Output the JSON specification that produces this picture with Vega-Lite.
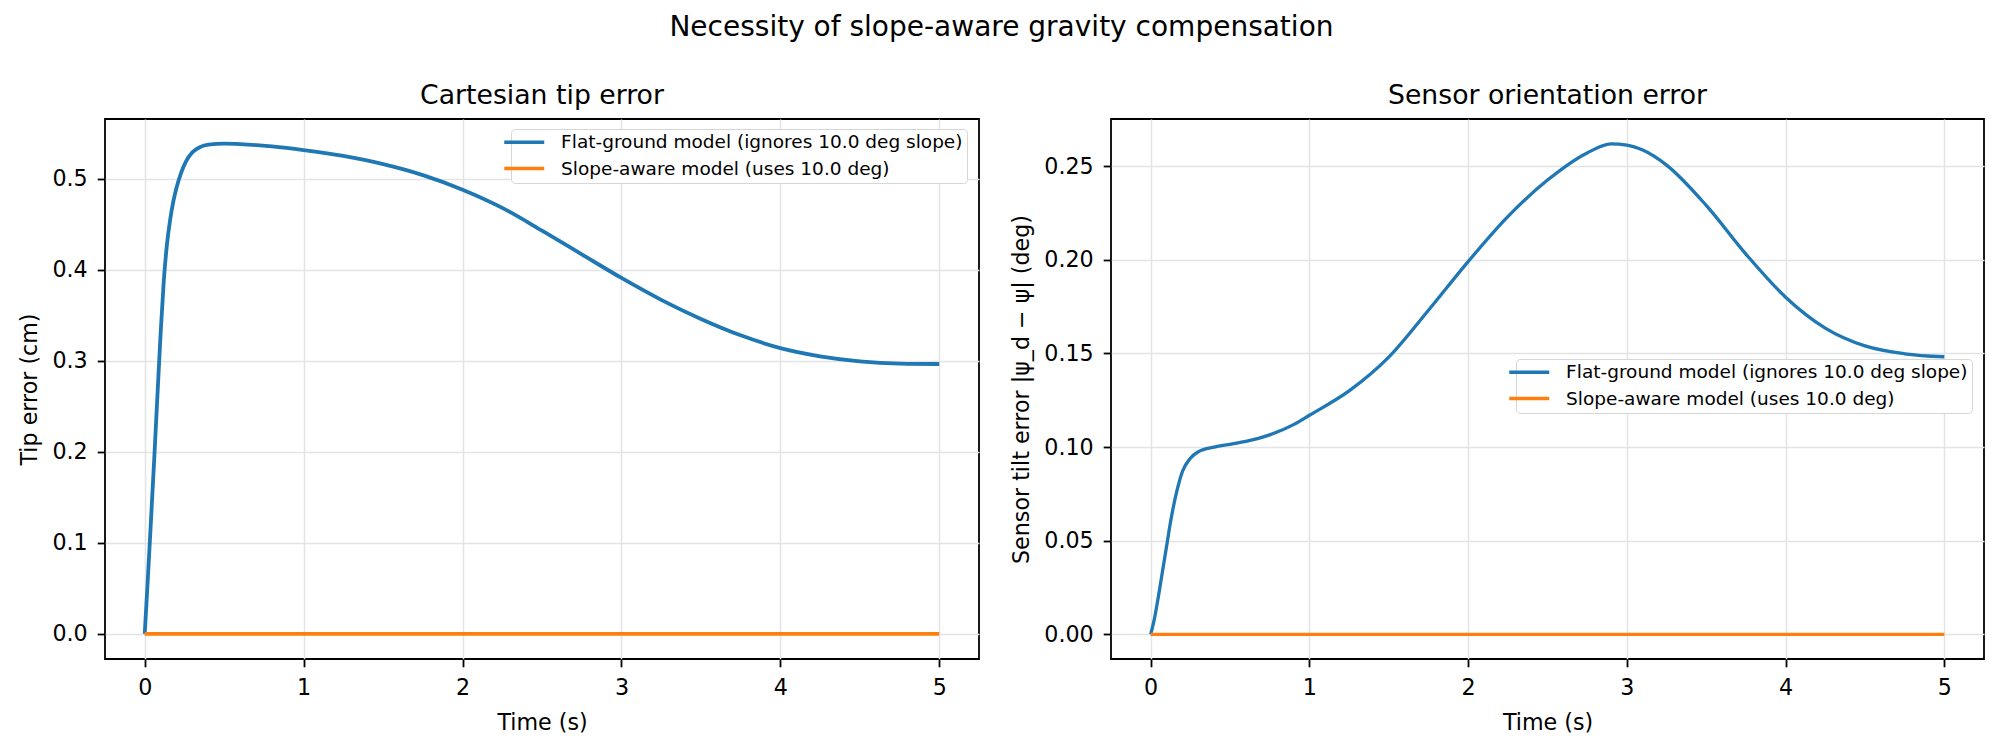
{
  "$schema": "https://vega.github.io/schema/vega-lite/v6.json",
  "padding": {"left": 18, "top": 14, "right": 0, "bottom": 0},
  "bounds": "flush",
  "spacing": 132,
  "title": {"text": "Necessity of slope-aware gravity compensation", "font": "DejaVu Sans", "fontSize": 28, "fontWeight": "normal", "color": "black", "anchor": "middle", "offset": 40},
  "config": {
    "font": "DejaVu Sans",
    "view": {"stroke": "black", "strokeWidth": 1.8},
    "axis": {"labelFont": "DejaVu Sans", "labelFontSize": 22.2, "labelColor": "black", "tickColor": "black", "tickSize": 7.8, "tickWidth": 1.8, "labelPadding": 10, "titleFont": "DejaVu Sans", "titleFontSize": 22.2, "titleFontWeight": "normal", "titleColor": "black", "domain": false, "gridColor": "#e4e4e4", "gridWidth": 1.5, "labelFlush": false, "labelOverlap": false},
    "title": {"font": "DejaVu Sans", "fontSize": 26.7, "fontWeight": "normal", "color": "black", "offset": 9},
    "legend": {"labelFont": "DejaVu Sans", "labelFontSize": 18.5, "labelColor": "black", "labelLimit": 0, "symbolType": "M-4,0H4", "symbolSize": 100, "symbolStrokeWidth": 3.5, "strokeColor": "#d6d6d6", "fillColor": "white", "cornerRadius": 4, "padding": 4, "rowPadding": 7.3, "labelOffset": 27.6, "title": null}
  },
  "datasets": {
    "tip": [
      {"t": 0, "v": 0, "model": "Flat-ground model (ignores 10.0 deg slope)"},
      {"t": 0.02, "v": 0.062, "model": "Flat-ground model (ignores 10.0 deg slope)"},
      {"t": 0.04, "v": 0.127, "model": "Flat-ground model (ignores 10.0 deg slope)"},
      {"t": 0.06, "v": 0.193, "model": "Flat-ground model (ignores 10.0 deg slope)"},
      {"t": 0.08, "v": 0.262, "model": "Flat-ground model (ignores 10.0 deg slope)"},
      {"t": 0.1, "v": 0.33, "model": "Flat-ground model (ignores 10.0 deg slope)"},
      {"t": 0.12, "v": 0.388, "model": "Flat-ground model (ignores 10.0 deg slope)"},
      {"t": 0.14, "v": 0.428, "model": "Flat-ground model (ignores 10.0 deg slope)"},
      {"t": 0.16, "v": 0.455, "model": "Flat-ground model (ignores 10.0 deg slope)"},
      {"t": 0.18, "v": 0.475, "model": "Flat-ground model (ignores 10.0 deg slope)"},
      {"t": 0.2, "v": 0.49, "model": "Flat-ground model (ignores 10.0 deg slope)"},
      {"t": 0.23, "v": 0.507, "model": "Flat-ground model (ignores 10.0 deg slope)"},
      {"t": 0.26, "v": 0.519, "model": "Flat-ground model (ignores 10.0 deg slope)"},
      {"t": 0.3, "v": 0.529, "model": "Flat-ground model (ignores 10.0 deg slope)"},
      {"t": 0.35, "v": 0.535, "model": "Flat-ground model (ignores 10.0 deg slope)"},
      {"t": 0.4, "v": 0.5375, "model": "Flat-ground model (ignores 10.0 deg slope)"},
      {"t": 0.5, "v": 0.5385, "model": "Flat-ground model (ignores 10.0 deg slope)"},
      {"t": 0.6, "v": 0.538, "model": "Flat-ground model (ignores 10.0 deg slope)"},
      {"t": 0.8, "v": 0.5355, "model": "Flat-ground model (ignores 10.0 deg slope)"},
      {"t": 1.0, "v": 0.5315, "model": "Flat-ground model (ignores 10.0 deg slope)"},
      {"t": 1.25, "v": 0.525, "model": "Flat-ground model (ignores 10.0 deg slope)"},
      {"t": 1.5, "v": 0.516, "model": "Flat-ground model (ignores 10.0 deg slope)"},
      {"t": 1.75, "v": 0.504, "model": "Flat-ground model (ignores 10.0 deg slope)"},
      {"t": 2.0, "v": 0.488, "model": "Flat-ground model (ignores 10.0 deg slope)"},
      {"t": 2.25, "v": 0.468, "model": "Flat-ground model (ignores 10.0 deg slope)"},
      {"t": 2.5, "v": 0.443, "model": "Flat-ground model (ignores 10.0 deg slope)"},
      {"t": 2.75, "v": 0.417, "model": "Flat-ground model (ignores 10.0 deg slope)"},
      {"t": 3.0, "v": 0.391, "model": "Flat-ground model (ignores 10.0 deg slope)"},
      {"t": 3.25, "v": 0.367, "model": "Flat-ground model (ignores 10.0 deg slope)"},
      {"t": 3.5, "v": 0.346, "model": "Flat-ground model (ignores 10.0 deg slope)"},
      {"t": 3.75, "v": 0.328, "model": "Flat-ground model (ignores 10.0 deg slope)"},
      {"t": 4.0, "v": 0.314, "model": "Flat-ground model (ignores 10.0 deg slope)"},
      {"t": 4.25, "v": 0.305, "model": "Flat-ground model (ignores 10.0 deg slope)"},
      {"t": 4.5, "v": 0.2995, "model": "Flat-ground model (ignores 10.0 deg slope)"},
      {"t": 4.75, "v": 0.297, "model": "Flat-ground model (ignores 10.0 deg slope)"},
      {"t": 5.0, "v": 0.2965, "model": "Flat-ground model (ignores 10.0 deg slope)"},
      {"t": 0, "v": 0, "model": "Slope-aware model (uses 10.0 deg)"},
      {"t": 1, "v": 0.0002, "model": "Slope-aware model (uses 10.0 deg)"},
      {"t": 2, "v": 0.0001, "model": "Slope-aware model (uses 10.0 deg)"},
      {"t": 3, "v": 0.0001, "model": "Slope-aware model (uses 10.0 deg)"},
      {"t": 4, "v": 0.0002, "model": "Slope-aware model (uses 10.0 deg)"},
      {"t": 5, "v": 0, "model": "Slope-aware model (uses 10.0 deg)"}
    ],
    "tilt": [
      {"t": 0, "v": 0, "model": "Flat-ground model (ignores 10.0 deg slope)"},
      {"t": 0.025, "v": 0.009, "model": "Flat-ground model (ignores 10.0 deg slope)"},
      {"t": 0.05, "v": 0.021, "model": "Flat-ground model (ignores 10.0 deg slope)"},
      {"t": 0.075, "v": 0.034, "model": "Flat-ground model (ignores 10.0 deg slope)"},
      {"t": 0.1, "v": 0.047, "model": "Flat-ground model (ignores 10.0 deg slope)"},
      {"t": 0.125, "v": 0.06, "model": "Flat-ground model (ignores 10.0 deg slope)"},
      {"t": 0.15, "v": 0.071, "model": "Flat-ground model (ignores 10.0 deg slope)"},
      {"t": 0.175, "v": 0.08, "model": "Flat-ground model (ignores 10.0 deg slope)"},
      {"t": 0.2, "v": 0.087, "model": "Flat-ground model (ignores 10.0 deg slope)"},
      {"t": 0.25, "v": 0.094, "model": "Flat-ground model (ignores 10.0 deg slope)"},
      {"t": 0.3, "v": 0.0975, "model": "Flat-ground model (ignores 10.0 deg slope)"},
      {"t": 0.4, "v": 0.1, "model": "Flat-ground model (ignores 10.0 deg slope)"},
      {"t": 0.5, "v": 0.1015, "model": "Flat-ground model (ignores 10.0 deg slope)"},
      {"t": 0.6, "v": 0.103, "model": "Flat-ground model (ignores 10.0 deg slope)"},
      {"t": 0.75, "v": 0.1065, "model": "Flat-ground model (ignores 10.0 deg slope)"},
      {"t": 0.9, "v": 0.112, "model": "Flat-ground model (ignores 10.0 deg slope)"},
      {"t": 1.0, "v": 0.117, "model": "Flat-ground model (ignores 10.0 deg slope)"},
      {"t": 1.25, "v": 0.13, "model": "Flat-ground model (ignores 10.0 deg slope)"},
      {"t": 1.5, "v": 0.148, "model": "Flat-ground model (ignores 10.0 deg slope)"},
      {"t": 1.75, "v": 0.173, "model": "Flat-ground model (ignores 10.0 deg slope)"},
      {"t": 2.0, "v": 0.199, "model": "Flat-ground model (ignores 10.0 deg slope)"},
      {"t": 2.25, "v": 0.223, "model": "Flat-ground model (ignores 10.0 deg slope)"},
      {"t": 2.5, "v": 0.2425, "model": "Flat-ground model (ignores 10.0 deg slope)"},
      {"t": 2.75, "v": 0.2570, "model": "Flat-ground model (ignores 10.0 deg slope)"},
      {"t": 2.9, "v": 0.2618, "model": "Flat-ground model (ignores 10.0 deg slope)"},
      {"t": 3.0, "v": 0.2612, "model": "Flat-ground model (ignores 10.0 deg slope)"},
      {"t": 3.1, "v": 0.2585, "model": "Flat-ground model (ignores 10.0 deg slope)"},
      {"t": 3.25, "v": 0.2505, "model": "Flat-ground model (ignores 10.0 deg slope)"},
      {"t": 3.5, "v": 0.229, "model": "Flat-ground model (ignores 10.0 deg slope)"},
      {"t": 3.75, "v": 0.203, "model": "Flat-ground model (ignores 10.0 deg slope)"},
      {"t": 4.0, "v": 0.18, "model": "Flat-ground model (ignores 10.0 deg slope)"},
      {"t": 4.25, "v": 0.1635, "model": "Flat-ground model (ignores 10.0 deg slope)"},
      {"t": 4.5, "v": 0.154, "model": "Flat-ground model (ignores 10.0 deg slope)"},
      {"t": 4.75, "v": 0.1498, "model": "Flat-ground model (ignores 10.0 deg slope)"},
      {"t": 5.0, "v": 0.1482, "model": "Flat-ground model (ignores 10.0 deg slope)"},
      {"t": 0, "v": 0, "model": "Slope-aware model (uses 10.0 deg)"},
      {"t": 1, "v": 0, "model": "Slope-aware model (uses 10.0 deg)"},
      {"t": 2, "v": 0, "model": "Slope-aware model (uses 10.0 deg)"},
      {"t": 3, "v": 0, "model": "Slope-aware model (uses 10.0 deg)"},
      {"t": 4, "v": 0, "model": "Slope-aware model (uses 10.0 deg)"},
      {"t": 5, "v": 0, "model": "Slope-aware model (uses 10.0 deg)"}
    ]
  },
  "resolve": {"legend": {"color": "independent"}, "scale": {"y": "independent", "x": "independent"}},
  "hconcat": [
    {
      "width": 874,
      "height": 540,
      "title": "Cartesian tip error",
      "data": {"name": "tip"},
      "mark": {"type": "line", "strokeWidth": 3.8, "clip": true, "interpolate": "monotone"},
      "encoding": {
        "x": {"field": "t", "type": "quantitative", "scale": {"domain": [-0.25, 5.25], "nice": false, "zero": false}, "axis": {"values": [0, 1, 2, 3, 4, 5], "title": "Time (s)", "titlePadding": 12.5}},
        "y": {"field": "v", "type": "quantitative", "scale": {"domain": [-0.0275, 0.5656], "nice": false, "zero": false}, "axis": {"values": [0, 0.1, 0.2, 0.3, 0.4, 0.5], "format": ".1f", "title": "Tip error (cm)", "titlePadding": 10}},
        "color": {"field": "model", "type": "nominal", "scale": {"domain": ["Flat-ground model (ignores 10.0 deg slope)", "Slope-aware model (uses 10.0 deg)"], "range": ["#1f77b4", "#ff7f0e"]}, "legend": {"orient": "none", "legendX": 406, "legendY": 10}}
      }
    },
    {
      "width": 873,
      "height": 540,
      "title": "Sensor orientation error",
      "data": {"name": "tilt"},
      "mark": {"type": "line", "strokeWidth": 3.3, "clip": true, "interpolate": "monotone"},
      "encoding": {
        "x": {"field": "t", "type": "quantitative", "scale": {"domain": [-0.25, 5.25], "nice": false, "zero": false}, "axis": {"values": [0, 1, 2, 3, 4, 5], "title": "Time (s)", "titlePadding": 12.5}},
        "y": {"field": "v", "type": "quantitative", "scale": {"domain": [-0.0131, 0.2751], "nice": false, "zero": false}, "axis": {"values": [0, 0.05, 0.1, 0.15, 0.2, 0.25], "format": ".2f", "title": "Sensor tilt error |ψ_d − ψ| (deg)", "titlePadding": 10}},
        "color": {"field": "model", "type": "nominal", "scale": {"domain": ["Flat-ground model (ignores 10.0 deg slope)", "Slope-aware model (uses 10.0 deg)"], "range": ["#1f77b4", "#ff7f0e"]}, "legend": {"orient": "none", "legendX": 405, "legendY": 240}}
      }
    }
  ]
}
